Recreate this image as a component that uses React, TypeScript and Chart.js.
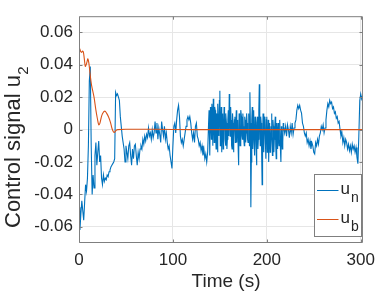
import React, { useEffect, useRef } from 'react';
import { Chart, registerables } from 'chart.js';
Chart.register(...registerables);

// ---------- data ----------
const timeRange = [0, 302.4];
const valueRange = [-0.07, 0.07];
const xTicks = [0, 100, 200, 300];
const xTickLabels = ['0', '100', '200', '300'];
const yTicks = [-0.06, -0.04, -0.02, 0, 0.02, 0.04, 0.06];
const yTickLabels = ['-0.06', '-0.04', '-0.02', '0', '0.02', '0.04', '0.06'];
const seriesNames = ['u_n', 'u_b'];

// u_n sampled every 1 s, t = 0 .. 302
const uN = [
  -0.048, -0.062, -0.052, -0.044, -0.050, -0.056, -0.045, -0.034, -0.038, -0.030,
  -0.010, 0.030, 0.039, -0.010, -0.040, -0.028, -0.036, -0.016, -0.008, -0.022,
  -0.014, -0.007, -0.020, -0.016, -0.030, -0.034, -0.028, -0.032, -0.030, -0.031,
  -0.028, -0.029, -0.026, -0.025, -0.023, -0.022, -0.021, -0.020, -0.018, 0.023,
  0.021, 0.022, 0.020, 0.018, 0.008, 0.002, -0.004, -0.008, -0.012, -0.020,
  -0.010, -0.014, -0.018, -0.010, -0.008, -0.016, -0.022, -0.012, -0.018, -0.010,
  -0.009, -0.016, -0.022, -0.014, -0.018, -0.012, -0.010, -0.012, -0.006, -0.009,
  -0.004, -0.007, -0.003, -0.005, 0.001, -0.004, -0.002, -0.006, 0.000, -0.005,
  -0.002, 0.005, -0.002, 0.004, -0.006, 0.001, -0.003, -0.008, 0.005, 0.000,
  -0.004, 0.002, -0.006, -0.002, -0.008, -0.012, -0.010, -0.016, -0.020, -0.024,
  -0.010, 0.002, 0.004, -0.002, 0.006, 0.012, 0.015, 0.008, -0.004, -0.008,
  -0.006, -0.010, -0.006, -0.002, 0.002, 0.006, 0.008, 0.006, 0.008, 0.004,
  -0.002, -0.006, -0.002, -0.008, 0.002, 0.004, -0.004, -0.006, -0.010, -0.008,
  -0.013, -0.010, -0.016, -0.012, -0.018, -0.015, -0.020, -0.014, 0.004, -0.010,
  0.014, -0.006, 0.010, 0.019, -0.008, 0.012, -0.012, 0.006, 0.016, -0.004,
  0.024, 0.002, -0.014, 0.010, -0.002, 0.008, -0.010, 0.004, -0.006, 0.012,
  0.022, -0.004, 0.006, -0.012, 0.004, -0.006, 0.008, 0.002, -0.008, 0.006,
  -0.022, 0.004, -0.004, 0.008, -0.006, 0.002, -0.010, 0.006, -0.002, 0.004,
  -0.008, 0.010, 0.023, -0.048, 0.006, -0.012, 0.012, -0.016, 0.004, -0.022,
  0.008, -0.006, 0.028, -0.010, 0.004, -0.034, 0.010, -0.014, 0.006, -0.018,
  0.008, -0.008, -0.020, 0.004, -0.012, 0.010, -0.016, 0.002, -0.006, 0.008,
  -0.018, -0.002, 0.004, -0.010, 0.006, -0.020, -0.004, -0.008, 0.002, -0.002,
  0.002, -0.004, 0.003, 0.000, -0.005, 0.002, -0.002, 0.004, -0.003, 0.001,
  0.004, 0.006, 0.012, 0.015, 0.013, 0.015, 0.012, 0.010, 0.004, 0.002,
  -0.002, -0.004, -0.002, -0.008, -0.006, -0.010, -0.007, -0.012, -0.008, -0.010,
  -0.014, -0.015, -0.008, -0.010, -0.006, -0.009, -0.004, -0.002, 0.002, 0.000,
  0.003, -0.002, 0.001, 0.006, 0.012, 0.016, 0.014, 0.018, 0.016, 0.017,
  0.013, 0.014, 0.010, 0.011, 0.007, 0.008, 0.004, 0.005, 0.000, -0.004,
  -0.002, -0.008, -0.005, -0.010, -0.006, -0.008, -0.012, -0.009, -0.013, -0.010,
  -0.014, -0.009, -0.012, -0.010, -0.014, -0.011, -0.017, -0.021, -0.004, 0.018,
  0.022, 0.019, 0.021,
];

// extra u_n samples in the noisy stretch, at t = 138.5, 139.5, ... 217.5
const uNHalfStart = 138.5;
const uNHalf = [
  0.012, -0.016, 0.004, 0.016, -0.010, 0.006, 0.014, -0.004, 0.010, -0.014,
  0.002, 0.018, -0.010, 0.014, 0.002, -0.012, 0.014, -0.006, 0.010, -0.012,
  0.006, -0.004, 0.008, 0.014, -0.010, 0.010, -0.014, 0.006, -0.008, 0.012,
  0.004, -0.012, 0.010, -0.010, 0.012, -0.004, 0.010, -0.006, 0.008, -0.008,
  0.010, -0.006, 0.004, -0.010, 0.004, -0.020, 0.014, -0.002, -0.008, 0.008,
  -0.010, 0.004, -0.012, 0.012, 0.004, 0.008, -0.014, -0.008, -0.004, 0.008,
  -0.008, 0.006, -0.014, 0.006, -0.004, -0.014, 0.002, -0.004, 0.006, -0.014,
  0.002, -0.010, 0.004, -0.012, -0.006, 0.002, -0.012, 0.002, -0.012, 0.004,
];

// u_b
const timeB = [
  0, 1, 2, 2.8, 3.8, 4.6, 5.6, 6.7, 7.6, 8.6, 9.5, 10.5, 11.5, 12.5, 13.5, 16, 18, 19.5,
  21, 22, 23.5, 25, 27.5, 29.5, 31.5, 33.5, 35, 36.3, 37.3, 38.5, 40, 41.5, 50, 80, 120, 302.4,
];
const uB = [
  0.051, 0.0495, 0.048, 0.0477, 0.0485, 0.048, 0.044, 0.039, 0.040, 0.042, 0.0437, 0.041, 0.036, 0.031, 0.027, 0.020, 0.012, 0.007,
  0.003, 0.0035, 0.007, 0.0098, 0.0114, 0.010, 0.0078, 0.0045, 0.001, -0.001, -0.0018, -0.0012, -0.0002, 0, 0.0002, 0.0002, 0, 0,
];

const BLUE = '#0072BD';
const ORANGE = '#D95319';
const AXIS = '#7f7f7f';
const TEXT = '#262626';
const FONT = '"Liberation Sans", Arial, Helvetica, sans-serif';

const decorPlugin = {
  id: 'decor',
  afterDraw(chart: any) {
    const { ctx, chartArea: a } = chart;
    const xs = chart.scales.x;
    const ys = chart.scales.y;
    ctx.save();
    const L = a.left + 0.5, R = a.right - 0.5, T = a.top + 0.5, B = a.bottom - 0.5;
    ctx.strokeStyle = AXIS;
    ctx.lineWidth = 1;
    ctx.beginPath();
    ctx.rect(L, T, R - L, B - T);
    xTicks.forEach((v) => {
      const px = Math.round(xs.getPixelForValue(v)) + 0.5;
      ctx.moveTo(px, B); ctx.lineTo(px, B - 3);
      ctx.moveTo(px, T); ctx.lineTo(px, T + 3);
    });
    yTicks.forEach((v) => {
      const py = Math.round(ys.getPixelForValue(v)) + 0.5;
      ctx.moveTo(L, py); ctx.lineTo(L + 3, py);
      ctx.moveTo(R, py); ctx.lineTo(R - 3, py);
    });
    ctx.stroke();

    // legend
    const lx = 314.5, ly = 174.5, lw = 47, lh = 62;
    ctx.fillStyle = '#ffffff';
    ctx.fillRect(lx, ly, lw, lh);
    ctx.strokeStyle = AXIS;
    ctx.strokeRect(lx, ly, lw, lh);
    const items = [
      { color: BLUE, y: 190.5, base: seriesNames[0].split('_')[0], sub: seriesNames[0].split('_')[1] },
      { color: ORANGE, y: 219.5, base: seriesNames[1].split('_')[0], sub: seriesNames[1].split('_')[1] },
    ];
    items.forEach((it) => {
      ctx.strokeStyle = it.color;
      ctx.lineWidth = 1;
      ctx.beginPath();
      ctx.moveTo(317, it.y); ctx.lineTo(338.5, it.y);
      ctx.stroke();
      ctx.fillStyle = TEXT;
      ctx.textAlign = 'left';
      ctx.textBaseline = 'alphabetic';
      ctx.font = `17px ${FONT}`;
      ctx.fillText(it.base, 340.5, it.y + 3);
      ctx.font = `14px ${FONT}`;
      ctx.fillText(it.sub, 351, it.y + 11);
    });

    // x title
    ctx.fillStyle = TEXT;
    ctx.font = `19px ${FONT}`;
    ctx.textAlign = 'center';
    ctx.textBaseline = 'alphabetic';
    ctx.fillText('Time (s)', 226, 286.5);

    // y title with subscript
    ctx.save();
    ctx.translate(20, 228);
    ctx.rotate(-Math.PI / 2);
    ctx.textAlign = 'left';
    ctx.font = `22px ${FONT}`;
    const main = 'Control signal u';
    ctx.fillText(main, 0, 0);
    const w = ctx.measureText(main).width;
    ctx.font = `15px ${FONT}`;
    ctx.fillText('2', w + 0.5, 8);
    ctx.restore();

    ctx.restore();
  },
};

export default function App() {
  const ref = useRef<HTMLCanvasElement | null>(null);
  useEffect(() => {
    document.body.style.margin = '0';
    const canvas = ref.current;
    if (!canvas) return;
    const nPoints = uN
      .map((v, i) => ({ x: i, y: v }))
      .concat(uNHalf.map((v, i) => ({ x: uNHalfStart + i, y: v })))
      .sort((p, q) => p.x - q.x);
    const chart = new Chart(canvas, {
      type: 'line',
      data: {
        datasets: [
          {
            label: seriesNames[1],
            data: timeB.map((t, i) => ({ x: t, y: uB[i] })),
            borderColor: ORANGE,
            borderWidth: 1.1,
            pointRadius: 0,
            tension: 0.35,
            fill: false,
            order: 0,
          },
          {
            label: seriesNames[0],
            data: nPoints,
            borderColor: BLUE,
            borderWidth: 1.1,
            pointRadius: 0,
            tension: 0,
            fill: false,
            order: 1,
          },
        ],
      },
      options: {
        responsive: false,
        animation: false,
        devicePixelRatio: 1,
        layout: { padding: { top: 9, right: 13, left: 0, bottom: 0 } },
        plugins: { legend: { display: false }, tooltip: { enabled: false } },
        scales: {
          x: {
            type: 'linear',
            min: timeRange[0],
            max: timeRange[1],
            afterBuildTicks: (s: any) => { s.ticks = xTicks.map((v) => ({ value: v })); },
            afterFit: (s: any) => { s.height = 50; },
            grid: { color: '#e6e6e6', drawTicks: false, lineWidth: 1 },
            border: { display: false },
            ticks: {
              color: TEXT,
              font: { family: FONT, size: 17 },
              padding: 7,
              maxRotation: 0,
              autoSkip: false,
              callback: (v: any) => xTickLabels[xTicks.indexOf(Number(v))] ?? '',
            },
          },
          y: {
            type: 'linear',
            min: valueRange[0],
            max: valueRange[1],
            afterBuildTicks: (s: any) => { s.ticks = yTicks.map((v) => ({ value: v })); },
            afterFit: (s: any) => { s.width = 79; },
            grid: { color: '#e6e6e6', drawTicks: false, lineWidth: 1 },
            border: { display: false },
            ticks: {
              color: TEXT,
              font: { family: FONT, size: 17 },
              padding: 6,
              autoSkip: false,
              callback: (v: any) => {
                const idx = yTicks.findIndex((t) => Math.abs(t - Number(v)) < 1e-9);
                return idx >= 0 ? yTickLabels[idx] : '';
              },
            },
          },
        },
      },
      plugins: [decorPlugin],
    });
    return () => chart.destroy();
  }, []);
  return (
    <div style={{ width: 382, height: 293 }}>
      <canvas ref={ref} width={382} height={293} style={{ display: 'block' }} />
    </div>
  );
}
